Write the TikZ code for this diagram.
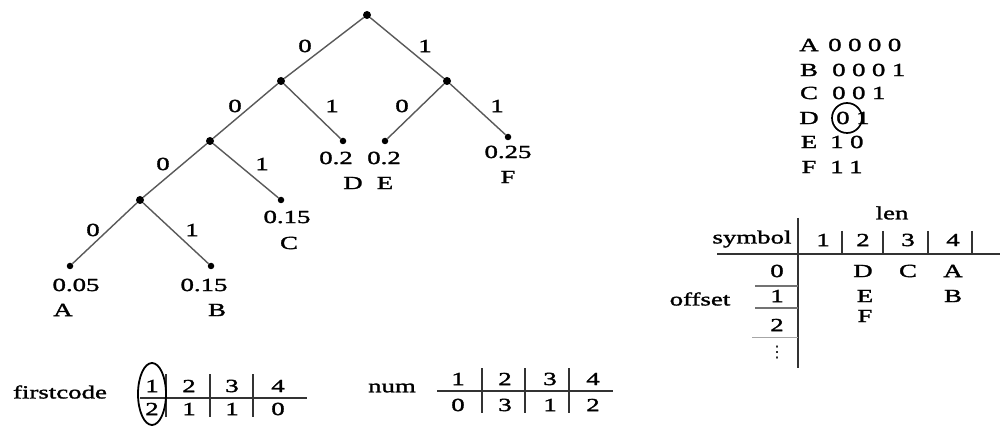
\documentclass[tikz,border=0pt]{standalone}
\usepackage{fontspec}
\setmainfont{Liberation Serif}[FakeStretch=1.45, FakeBold=1.6]
\newfontfamily\codefont{Liberation Serif}[FakeStretch=1.45, FakeBold=1.6, LetterSpace=35]
\newfontfamily\dejavu{DejaVu Sans}
\begin{document}
\begin{tikzpicture}[x=1pt,y=-1pt,
  every node/.style={font=\fontsize{18.5}{20}\selectfont, inner sep=0pt, text=black},
  dot/.style={circle, fill=black, draw=none, minimum size=8pt},
  leaf/.style={circle, fill=black, draw=none, minimum size=6.5pt},
  edge/.style={draw=black!65, line width=1.4pt},
  rule/.style={draw=black!80, line width=1.7pt},
  thinrule/.style={draw=black!55, line width=1.2pt},
  code/.style={anchor=west, font=\codefont\fontsize{18.5}{20}\selectfont}]
\useasboundingbox[fill=white] (0,0) rectangle (1000,427);

% ---------- tree ----------
\node[dot] (r) at (367,15) {};
\node[dot] (n1) at (281,81) {};
\node[dot] (n2) at (447,81) {};
\node[dot] (n3) at (210,141) {};
\node[leaf] (d) at (343,141) {};
\node[leaf] (e) at (385,141) {};
\node[leaf] (f) at (508,137) {};
\node[dot] (n4) at (140,200) {};
\node[leaf] (c) at (281,200) {};
\node[leaf] (a) at (70,266) {};
\node[leaf] (b) at (211,266) {};

\draw[edge] (r) -- (n1);
\draw[edge] (r) -- (n2);
\draw[edge] (n1) -- (n3);
\draw[edge] (n1) -- (d);
\draw[edge] (n2) -- (e);
\draw[edge] (n2) -- (f);
\draw[edge] (n3) -- (n4);
\draw[edge] (n3) -- (c);
\draw[edge] (n4) -- (a);
\draw[edge] (n4) -- (b);

\node (l01) at (305,46) {0};
\node (l11) at (425,46) {1};
\node (l02) at (235,106) {0};
\node (l12) at (332,106) {1};
\node (l03) at (402,106) {0};
\node (l13) at (497,106) {1};
\node (l04) at (163,164) {0};
\node (l14) at (262,164) {1};
\node (l05) at (93,230) {0};
\node (l15) at (192,230) {1};

\node (pa) at (76,285) {0.05};
\node (sa) at (63,310) {A};
\node (pb) at (204,285) {0.15};
\node (sb) at (217,310) {B};
\node (pc) at (287,217) {0.15};
\node (sc) at (289,243) {C};
\node (pd) at (336,158) {0.2};
\node (pe) at (384,158) {0.2};
\node (sd) at (353,183) {D};
\node (se) at (385,183) {E};
\node (pf) at (508,152) {0.25};
\node (sf) at (508,177) {F};

% ---------- code list ----------
\node (ca) at (809,45) {A};
\node (cb) at (809,70) {B};
\node (cc) at (809,93) {C};
\node (cd) at (809,118) {D};
\node (ce) at (809,142) {E};
\node (cf) at (809,167) {F};
\node[code] (ka) at (828,45) {0000};
\node[code] (kb) at (832,70) {0001};
\node[code] (kc) at (832,93) {001};
\node[code] (kd) at (836,118) {01};
\node[code] (ke) at (830,142) {10};
\node[code] (kf) at (830,167) {11};
\draw[line width=1.7pt] (847,118) circle [radius=15];

% ---------- symbol table ----------
\node (len) at (892,213) {len};
\node (sym) at (752,239) {symbol};
\node (off) at (700,299) {offset};
\draw[rule] (798,218) -- (798,368);
\draw[rule] (717,254) -- (1000,254);
\foreach \x in {842,883,928,972} \draw[rule] (\x,231) -- (\x,254);
\node (h1) at (823,240) {1};
\node (h2) at (863,240) {2};
\node (h3) at (908,240) {3};
\node (h4) at (953,240) {4};
\node (o0) at (777,271) {0};
\node (o1) at (777,296) {1};
\node (o2) at (777,325) {2};
\node (od) at (777,353) {\dejavu\fontsize{16}{18}\selectfont ⋮};
\draw[thinrule] (755,286) -- (798,286);
\draw[thinrule] (755,308) -- (798,308);
\draw[draw=black!35, line width=1pt] (752,337) -- (798,337);
\node (td) at (863,271) {D};
\node (tc) at (908,271) {C};
\node (ta) at (953,271) {A};
\node (te) at (865,296) {E};
\node (tb) at (953,296) {B};
\node (tf) at (865,316) {F};

% ---------- firstcode ----------
\node (fc) at (60,392) {firstcode};
\draw[rule] (140,398) -- (307,398);
\foreach \x in {166,210,253} \draw[rule] (\x,374) -- (\x,417);
\node (f1) at (152,386) {1};
\node (f2) at (189,386) {2};
\node (f3) at (232,386) {3};
\node (f4) at (278,386) {4};
\node (g1) at (152,409) {2};
\node (g2) at (189,409) {1};
\node (g3) at (232,409) {1};
\node (g4) at (278,409) {0};
\draw[line width=1.8pt] (152,394) ellipse [x radius=14, y radius=31];

% ---------- num ----------
\node (nm) at (392,388) {num};
\draw[rule] (437,391) -- (613,391);
\foreach \x in {482,525,569} \draw[rule] (\x,368) -- (\x,413);
\node (m1) at (458,379) {1};
\node (m2) at (505,379) {2};
\node (m3) at (550,379) {3};
\node (m4) at (593,379) {4};
\node (k1) at (458,405) {0};
\node (k2) at (505,405) {3};
\node (k3) at (550,405) {1};
\node (k4) at (593,405) {2};
\end{tikzpicture}
\end{document}
